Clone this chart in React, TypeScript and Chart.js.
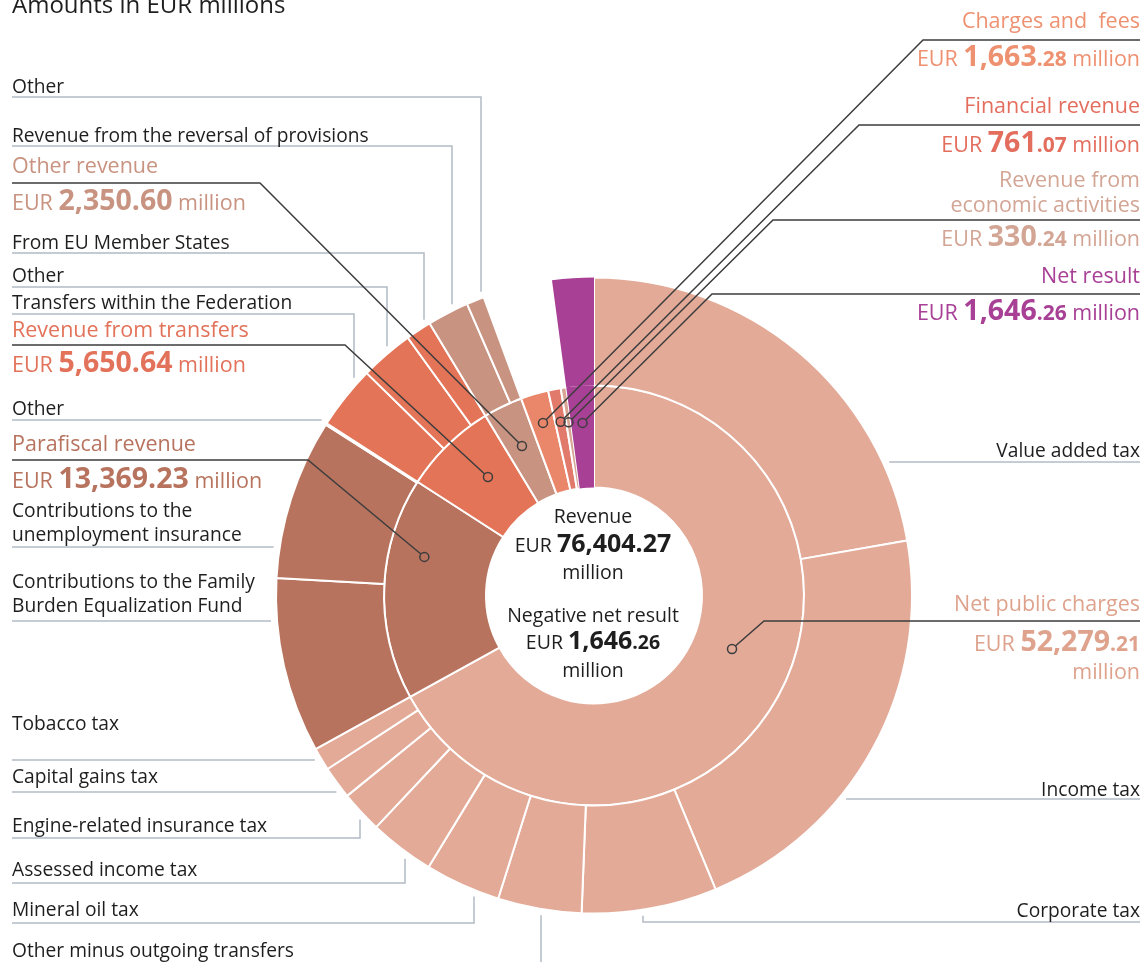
import React, { useEffect, useRef } from "react";
import { Chart, registerables } from "chart.js";

Chart.register(...registerables);

const W = 1147;
const H = 962;
const FAMILY = "'Open Sans', 'Noto Sans', sans-serif";

// ---------- DATA ----------
// Inner ring: revenue categories (EUR millions)
const categoryLabels = [
  "Net public charges",
  "Parafiscal revenue",
  "Revenue from transfers",
  "Other revenue",
  "Charges and  fees",
  "Financial revenue",
  "Revenue from economic activities",
  "Net result",
];
const categoryValues = [52279.21, 13369.23, 5650.64, 2350.6, 1663.28, 761.07, 330.24, 1646.26];
const categoryColors = ["#e3aa97", "#b8735e", "#e37457", "#c99381", "#ea876a", "#e27a6c", "#d6a594", "#a84096"];
const categoryTextColors = ["#dea28d", "#b8735e", "#e3725a", "#c99381", "#ee9171", "#e46e5e", "#d3a595", "#a84096"];

// Outer ring: sub-items (EUR millions)
const subLabels = [
  "Value added tax",
  "Income tax",
  "Corporate tax",
  "Other minus outgoing transfers",
  "Mineral oil tax",
  "Assessed income tax",
  "Engine-related insurance tax",
  "Capital gains tax",
  "Tobacco tax",
  "Contributions to the Family Burden Equalization Fund",
  "Contributions to the unemployment insurance",
  "Other",
  "Transfers within the Federation",
  "Other",
  "From EU Member States",
  "Revenue from the reversal of provisions",
  "Other",
  "Charges and  fees",
  "Financial revenue",
  "Revenue from economic activities",
  "Net result",
];
const subValues = [
  17350, 16800, 5360, 3320, 2990, 2580, 1670, 1300, 909.21,
  6940, 6360, 69.23,
  2510, 2120, 1020.64,
  1650, 700.6,
  1663.28, 761.07, 330.24,
  1646.26,
];
const subParent = [0, 0, 0, 0, 0, 0, 0, 0, 0, 1, 1, 1, 2, 2, 2, 3, 3, 4, 5, 6, 7];
const subShown = [1, 1, 1, 1, 1, 1, 1, 1, 1, 1, 1, 1, 1, 1, 1, 1, 1, 0, 0, 0, 1];

// ---------- LAYOUT ----------
type Run = { t: string; s: number; b?: boolean };
type TextItem = { x: number; y: number; align: "left" | "right" | "center"; color: string; runs: Run[] };

const BLACK = "#1e1e1e";
const LS = 19.2; // label size
const HS = 21.5; // header size
const BS = 28.5; // big number size
const DS = 21; // decimals size
const CS = 19.5; // centre size
const CB = 25; // centre bold size

const lbl = (t: string, x: number, y: number, align: "left" | "right" = "left"): TextItem => ({
  x, y, align, color: BLACK, runs: [{ t, s: LS }],
});

const texts: TextItem[] = [
  { x: 12, y: 13, align: "left", color: BLACK, runs: [{ t: "Amounts in EUR millions", s: 24 }] },
  lbl("Other", 12, 93),
  lbl("Revenue from the reversal of provisions", 12, 142),
  { x: 12, y: 173, align: "left", color: categoryTextColors[3], runs: [{ t: categoryLabels[3], s: HS }] },
  { x: 12, y: 210, align: "left", color: categoryTextColors[3], runs: [{ t: "EUR ", s: HS }, { t: "2,350.60", s: BS, b: true }, { t: " million", s: HS }] },
  lbl("From EU Member States", 12, 249),
  lbl("Other", 12, 282),
  lbl("Transfers within the Federation", 12, 309),
  { x: 12, y: 337, align: "left", color: categoryTextColors[2], runs: [{ t: categoryLabels[2], s: HS }] },
  { x: 12, y: 372, align: "left", color: categoryTextColors[2], runs: [{ t: "EUR ", s: HS }, { t: "5,650.64", s: BS, b: true }, { t: " million", s: HS }] },
  lbl("Other", 12, 415),
  { x: 12, y: 451, align: "left", color: categoryTextColors[1], runs: [{ t: categoryLabels[1], s: HS }] },
  { x: 12, y: 488, align: "left", color: categoryTextColors[1], runs: [{ t: "EUR ", s: HS }, { t: "13,369.23", s: BS, b: true }, { t: " million", s: HS }] },
  lbl("Contributions to the", 12, 517),
  lbl("unemployment insurance", 12, 541),
  lbl("Contributions to the Family", 12, 588),
  lbl("Burden Equalization Fund", 12, 612),
  lbl("Tobacco tax", 12, 730),
  lbl("Capital gains tax", 12, 783),
  lbl("Engine-related insurance tax", 12, 832),
  lbl("Assessed income tax", 12, 876),
  lbl("Mineral oil tax", 12, 916),
  lbl("Other minus outgoing transfers", 12, 957),
  // right side
  { x: 1140, y: 28, align: "right", color: categoryTextColors[4], runs: [{ t: categoryLabels[4], s: HS }] },
  { x: 1140, y: 66, align: "right", color: categoryTextColors[4], runs: [{ t: "EUR ", s: HS }, { t: "1,663", s: BS, b: true }, { t: ".28", s: DS, b: true }, { t: " million", s: HS }] },
  { x: 1140, y: 113, align: "right", color: categoryTextColors[5], runs: [{ t: categoryLabels[5], s: HS }] },
  { x: 1140, y: 152, align: "right", color: categoryTextColors[5], runs: [{ t: "EUR ", s: HS }, { t: "761", s: BS, b: true }, { t: ".07", s: DS, b: true }, { t: " million", s: HS }] },
  { x: 1140, y: 187, align: "right", color: categoryTextColors[6], runs: [{ t: "Revenue from", s: HS }] },
  { x: 1140, y: 212, align: "right", color: categoryTextColors[6], runs: [{ t: "economic activities", s: HS }] },
  { x: 1140, y: 246, align: "right", color: categoryTextColors[6], runs: [{ t: "EUR ", s: HS }, { t: "330", s: BS, b: true }, { t: ".24", s: DS, b: true }, { t: " million", s: HS }] },
  { x: 1140, y: 283, align: "right", color: categoryTextColors[7], runs: [{ t: categoryLabels[7], s: HS }] },
  { x: 1140, y: 320, align: "right", color: categoryTextColors[7], runs: [{ t: "EUR ", s: HS }, { t: "1,646", s: BS, b: true }, { t: ".26", s: DS, b: true }, { t: " million", s: HS }] },
  lbl("Value added tax", 1140, 457, "right"),
  { x: 1140, y: 611, align: "right", color: categoryTextColors[0], runs: [{ t: categoryLabels[0], s: HS }] },
  { x: 1140, y: 651, align: "right", color: categoryTextColors[0], runs: [{ t: "EUR ", s: HS }, { t: "52,279", s: BS, b: true }, { t: ".21", s: DS, b: true }] },
  { x: 1140, y: 679, align: "right", color: categoryTextColors[0], runs: [{ t: "million", s: HS }] },
  lbl("Income tax", 1140, 796, "right"),
  lbl("Corporate tax", 1140, 917, "right"),
  // centre
  { x: 593, y: 523, align: "center", color: BLACK, runs: [{ t: "Revenue", s: CS }] },
  { x: 593, y: 552, align: "center", color: BLACK, runs: [{ t: "EUR ", s: CS }, { t: "76,404.27", s: CB, b: true }] },
  { x: 593, y: 579, align: "center", color: BLACK, runs: [{ t: "million", s: CS }] },
  { x: 593, y: 622, align: "center", color: BLACK, runs: [{ t: "Negative net result", s: CS }] },
  { x: 593, y: 649, align: "center", color: BLACK, runs: [{ t: "EUR ", s: CS }, { t: "1,646", s: CB, b: true }, { t: ".26", s: CS, b: true }] },
  { x: 593, y: 677, align: "center", color: BLACK, runs: [{ t: "million", s: CS }] },
];

// gray leaders: "v" = horizontal then vertical to ring, "h" = horizontal to ring
type Gray = { kind: "v" | "h"; x0: number; y: number; xv?: number };
const grayLeaders: Gray[] = [
  { kind: "v", x0: 12, y: 97, xv: 481 },
  { kind: "v", x0: 12, y: 146, xv: 452 },
  { kind: "v", x0: 12, y: 253, xv: 424 },
  { kind: "v", x0: 12, y: 287, xv: 387 },
  { kind: "v", x0: 12, y: 314, xv: 354 },
  { kind: "h", x0: 12, y: 420 },
  { kind: "h", x0: 12, y: 547 },
  { kind: "h", x0: 12, y: 621 },
  { kind: "h", x0: 12, y: 760 },
  { kind: "h", x0: 12, y: 792 },
  { kind: "v", x0: 12, y: 838, xv: 360 },
  { kind: "v", x0: 12, y: 883, xv: 405 },
  { kind: "v", x0: 12, y: 923, xv: 474 },
  { kind: "v", x0: 12, y: 966, xv: 541 },
  { kind: "h", x0: 1140, y: 462 },
  { kind: "h", x0: 1140, y: 799 },
  { kind: "v", x0: 1140, y: 922, xv: 643 },
];

// dark leaders: to a dot inside an inner-ring segment
type Dark = { x0: number; y: number; xb: number; idx: number; f: number; r: number };
const darkLeaders: Dark[] = [
  { x0: 12, y: 183, xb: 260, idx: 3, f: 0.5, r: 166 },
  { x0: 12, y: 345, xb: 345, idx: 2, f: 0.59, r: 159 },
  { x0: 12, y: 460, xb: 308, idx: 1, f: 0.676, r: 174 },
  { x0: 1140, y: 40, xb: 923, idx: 4, f: 0.5, r: 180 },
  { x0: 1140, y: 125, xb: 859, idx: 5, f: 0.5, r: 177 },
  { x0: 1140, y: 220, xb: 773, idx: 6, f: 0.5, r: 175 },
  { x0: 1140, y: 294, xb: 712, idx: 7, f: 0.5, r: 173 },
  { x0: 1140, y: 621, xb: 764, idx: 0, f: 0.461, r: 148 },
];

const fontStr = (s: number, b?: boolean) => `${b ? "700" : "400"} ${s}px ${FAMILY}`;

function drawRuns(ctx: CanvasRenderingContext2D, item: TextItem) {
  let total = 0;
  const widths = item.runs.map((r) => {
    ctx.font = fontStr(r.s, r.b);
    const w = ctx.measureText(r.t).width;
    total += w;
    return w;
  });
  let sx = item.align === "left" ? item.x : item.align === "right" ? item.x - total : item.x - total / 2;
  ctx.fillStyle = item.color;
  ctx.textAlign = "left";
  ctx.textBaseline = "alphabetic";
  item.runs.forEach((r, i) => {
    ctx.font = fontStr(r.s, r.b);
    ctx.fillText(r.t, sx, item.y);
    sx += widths[i];
  });
}

const overlayPlugin = {
  id: "overlay",
  afterDraw(chart: any) {
    const ctx: CanvasRenderingContext2D = chart.ctx;
    const outer = chart.getDatasetMeta(0).data[0] as any;
    const cx = outer.x;
    const cy = outer.y;
    const R = outer.outerRadius;
    const Rg = R + 6;
    ctx.save();
    // gray leaders
    ctx.strokeStyle = "#b3bbc4";
    ctx.lineWidth = 1.5;
    grayLeaders.forEach((g) => {
      ctx.beginPath();
      ctx.moveTo(g.x0, g.y);
      if (g.kind === "v" && g.xv !== undefined) {
        const d = Math.sqrt(Math.max(Rg * Rg - (g.xv - cx) * (g.xv - cx), 0));
        const yEnd = g.y < cy ? cy - d : cy + d;
        ctx.lineTo(g.xv, g.y);
        ctx.lineTo(g.xv, yEnd);
      } else {
        const d = Math.sqrt(Math.max(Rg * Rg - (g.y - cy) * (g.y - cy), 0));
        const xEnd = g.x0 < cx ? cx - d : cx + d;
        ctx.lineTo(xEnd, g.y);
      }
      ctx.stroke();
    });
    // dark leaders
    const innerArcs = chart.getDatasetMeta(1).data as any[];
    ctx.strokeStyle = "#3d3d3d";
    ctx.lineWidth = 1.5;
    const dotR = 4.5;
    darkLeaders.forEach((d) => {
      const arc = innerArcs[d.idx];
      const a = arc.startAngle + (arc.endAngle - arc.startAngle) * d.f;
      const px = cx + d.r * Math.cos(a);
      const py = cy + d.r * Math.sin(a);
      const dx = px - d.xb;
      const dy = py - d.y;
      const len = Math.sqrt(dx * dx + dy * dy);
      ctx.beginPath();
      ctx.moveTo(d.x0, d.y);
      ctx.lineTo(d.xb, d.y);
      ctx.lineTo(px - (dx / len) * dotR, py - (dy / len) * dotR);
      ctx.stroke();
      ctx.beginPath();
      ctx.arc(px, py, dotR, 0, Math.PI * 2);
      ctx.stroke();
    });
    texts.forEach((t) => drawRuns(ctx, t));
    ctx.restore();
  },
};

export default function App() {
  const ref = useRef<HTMLCanvasElement | null>(null);
  useEffect(() => {
    if (!ref.current) return;
    const outerColors = subParent.map((p, i) => (subShown[i] ? categoryColors[p] : "rgba(0,0,0,0)"));
    const outerBorders = subParent.map((p, i) => (subShown[i] && p !== 7 ? 2 : 0));
    const innerBorders = categoryValues.map((_, i) => (i === 7 ? 0 : 2));
    const chart = new Chart(ref.current, {
      type: "doughnut",
      data: {
        labels: subLabels,
        datasets: [
          {
            label: "Sub-items",
            data: subValues,
            backgroundColor: outerColors,
            borderColor: "#ffffff",
            borderWidth: outerBorders,
            weight: 108,
          } as any,
          {
            label: "Categories",
            data: categoryValues,
            backgroundColor: categoryColors,
            borderColor: "#ffffff",
            borderWidth: innerBorders,
            weight: 102,
          } as any,
        ],
      },
      options: {
        responsive: false,
        animation: false,
        radius: 318,
        cutout: "33.96%",
        layout: { padding: { left: 276, right: 235, top: 277.5, bottom: 48.5 } },
        plugins: { legend: { display: false }, tooltip: { enabled: false } },
        events: [],
      } as any,
      plugins: [overlayPlugin],
    });
    return () => chart.destroy();
  }, []);
  return (
    <div style={{ position: "absolute", left: 0, top: 0, width: W, height: H, background: "#fff" }}>
      <canvas ref={ref} width={W} height={H} style={{ width: W, height: H, display: "block" }} />
    </div>
  );
}
